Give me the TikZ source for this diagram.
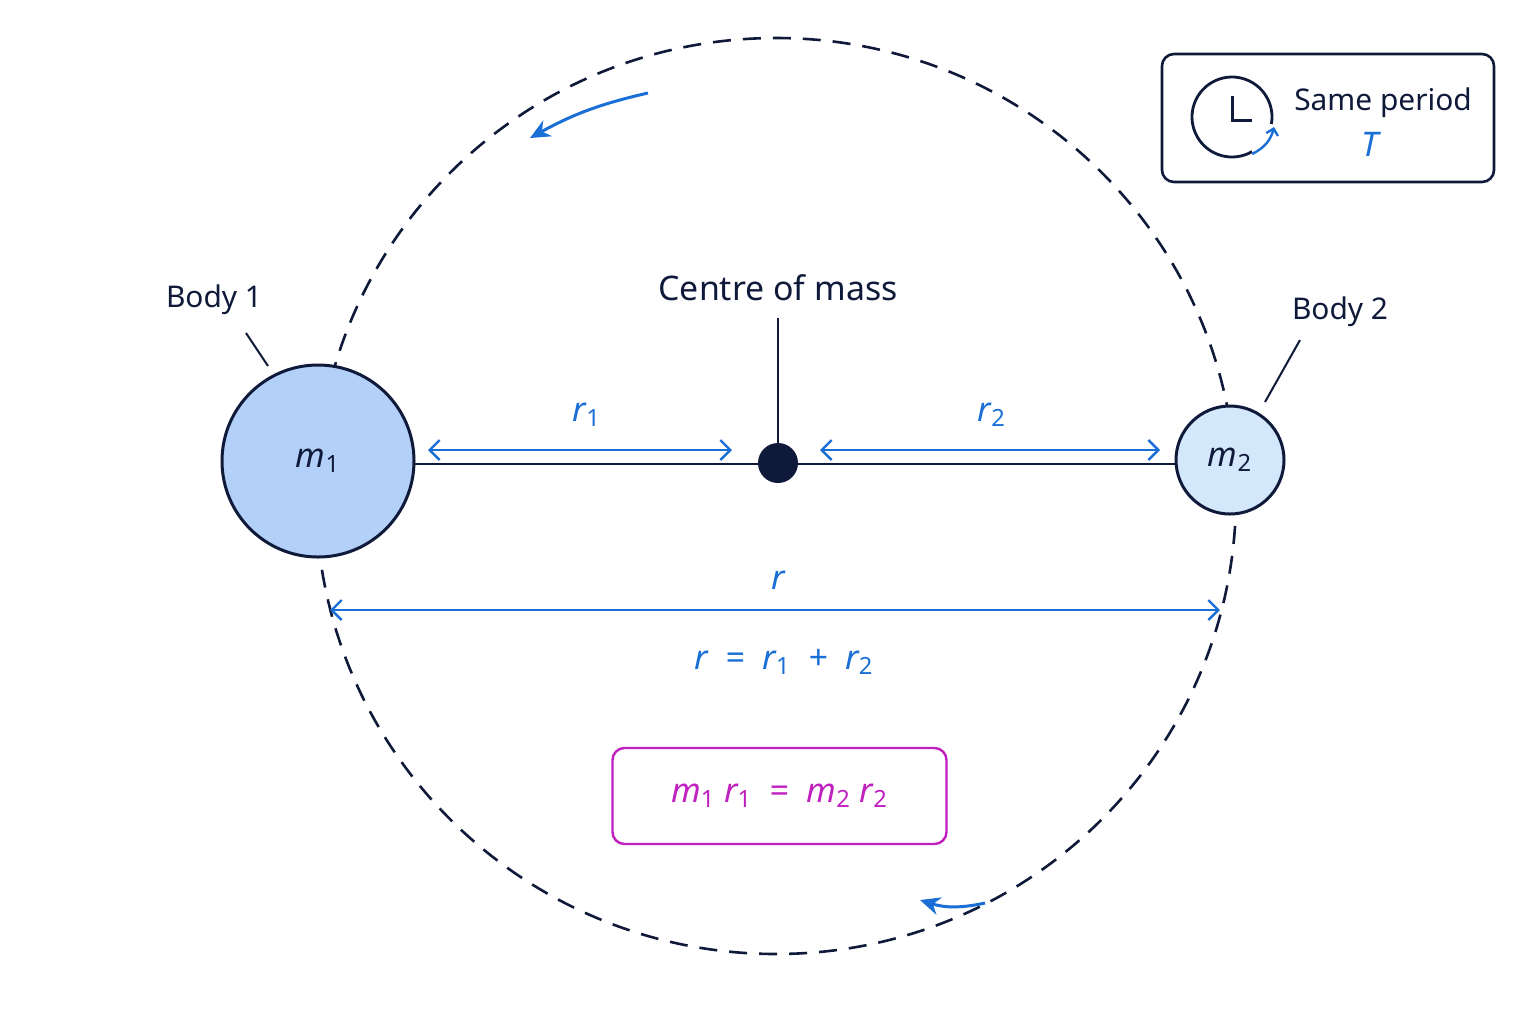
\documentclass[tikz,border=0pt]{standalone}
\usepackage{fontspec}
\setmainfont{Noto Sans}
\usetikzlibrary{arrows.meta}
\definecolor{navy}{HTML}{0F1A3A}
\definecolor{blu}{HTML}{1A6FD6}
\definecolor{b1}{HTML}{B3D0F8}
\definecolor{b2}{HTML}{D4E8FC}
\definecolor{pur}{HTML}{C020C0}
\newcommand{\sbs}[1]{\textsubscript{\upshape #1}}
\begin{document}
\begin{tikzpicture}[x=0.5bp,y=-0.5bp,
  lbl/.style={text=navy,font=\fontsize{15}{18}\selectfont\medium},
  var/.style={text=blu,font=\fontsize{17}{20}\selectfont\itshape},
  dim/.style={blu,line width=1.2bp,{Straight Barb[length=5bp]}-{Straight Barb[length=5bp]}},
  orb/.style={navy,line width=1.3bp,dash pattern=on 9bp off 6bp},
  lead/.style={navy,line width=1bp}]
\providecommand{\medium}{}
\useasboundingbox[fill=white] (0,0) rectangle (1536,1024);
\draw[orb] (776,496) circle[x radius=460,y radius=458];
\draw[lead] (318,464) -- (1230,464);
\node[circle,draw=navy,line width=1.5bp,fill=b1,minimum size=96bp,inner sep=0] (m1) at (318,461) {};
\node[var,text=navy] at (m1) {m\sbs{1}};
\node[circle,draw=navy,line width=1.5bp,fill=b2,minimum size=54bp,inner sep=0] (m2) at (1230,460) {};
\node[var,text=navy] at (m2) {m\sbs{2}};
\node[circle,fill=navy,minimum size=20bp,inner sep=0] (com) at (778,463) {};
\coordinate (ct) at (778,318);
\draw[lead] (ct) -- (com);
\node[lbl,font=\fontsize{17}{20}\selectfont] (comlbl) at (778,288) {Centre of mass};
\node[lbl] (bl1) at (214,300) {Body 1};
\coordinate (l1a) at (246,333); \coordinate (l1b) at (268,366);
\draw[lead] (l1a) -- (l1b);
\node[lbl] (bl2) at (1340,312) {Body 2};
\coordinate (l2a) at (1300,340); \coordinate (l2b) at (1265,402);
\draw[lead] (l2a) -- (l2b);
\coordinate (a1) at (428,450); \coordinate (a2) at (732,450);
\draw[dim] (a1) -- (a2);
\node[var] at (587,415) {r\sbs{1}};
\coordinate (c1) at (820,450); \coordinate (c2) at (1160,450);
\draw[dim] (c1) -- (c2);
\node[var] at (992,415) {r\sbs{2}};
\coordinate (d1) at (330,610); \coordinate (d2) at (1220,610);
\draw[dim] (d1) -- (d2);
\node[var] at (778,580) {r};
\node[var] at (784,662) {r \ = \ r\sbs{1} \ + \ r\sbs{2}};
\node[draw=pur,line width=1.2bp,rounded corners=6bp,minimum width=167bp,minimum height=48bp,text=pur,font=\fontsize{17}{20}\selectfont\itshape] (eq) at (779.5,796) {m\sbs{1} r\sbs{1} \ = \ m\sbs{2} r\sbs{2}};
\node[draw=navy,line width=1.3bp,rounded corners=6bp,minimum width=166bp,minimum height=64bp] (box) at (1328,118) {};
\node[lbl] at (1383,103) {Same period};
\node[var] at (1370,144) {T};
\coordinate (clk) at (1232,117);
\draw[navy,line width=1.4bp] ([shift={(60:40)}]clk) arc[start angle=60,end angle=370,radius=40];
\draw[navy,line width=1.5bp] (1232,96) -- (1232,120) -- (1252,120);
\draw[blu,line width=1.2bp,-{Straight Barb[length=3bp]}] (1252,154) to[bend right=25] (1274,127);
\coordinate (o1) at (648,93); \coordinate (o2) at (530,138);
\draw[blu,line width=1.5bp,-{Stealth[length=10bp,width=9bp]}] (o1) to[bend right=8] (o2);
\coordinate (o3) at (985,903); \coordinate (o4) at (920,900);
\draw[blu,line width=1.5bp,-{Stealth[length=10bp,width=9bp]}] (o3) to[bend left=15] (o4);
\end{tikzpicture}
\end{document}
